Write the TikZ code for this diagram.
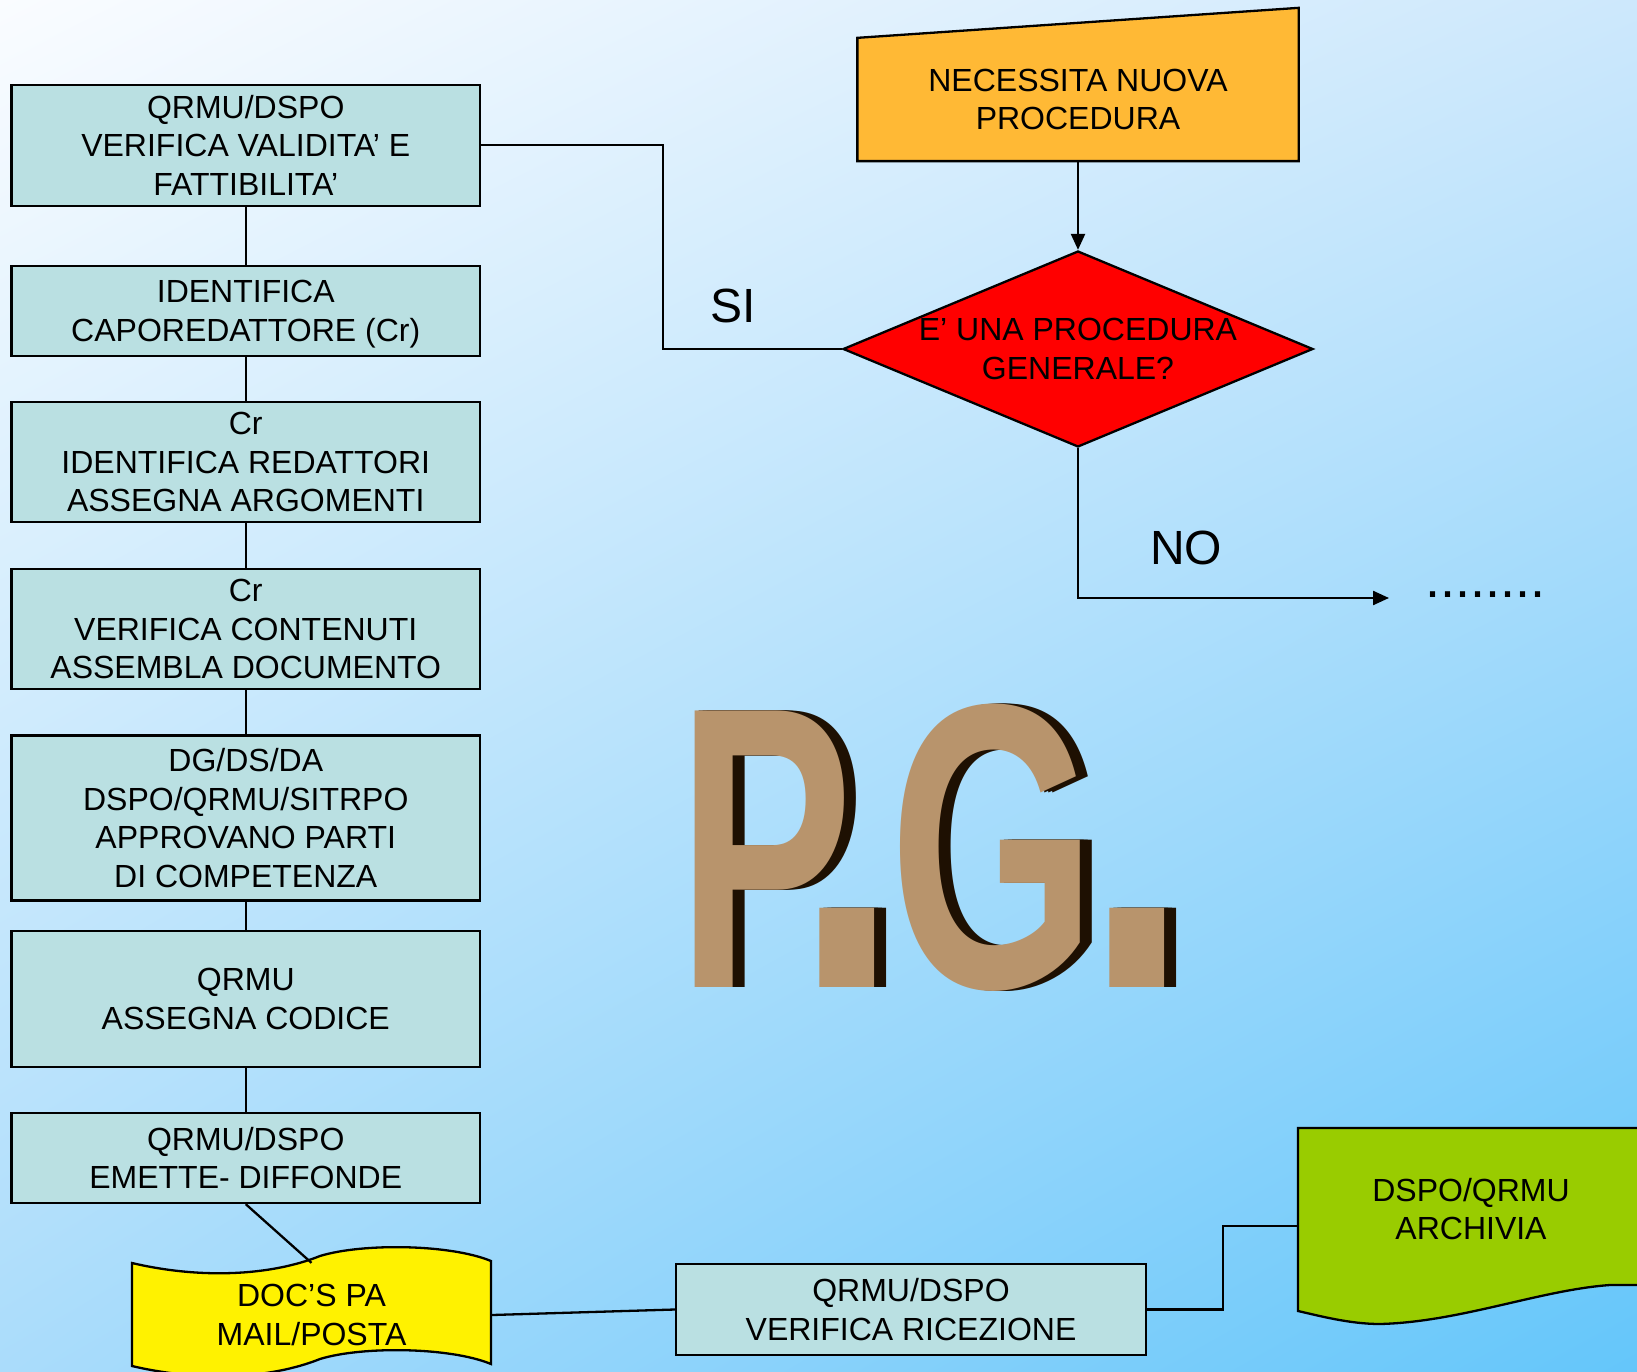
\documentclass[tikz,border=0pt]{standalone}
\usepackage{fontspec}
\setmainfont{Liberation Sans}
\usepackage{tikz}
\usetikzlibrary{
  shapes.geometric,%
  arrows.meta,%
  shadings,%
  positioning,%
  calc
}
\definecolor{boxfill}{RGB}{186,224,226}
\definecolor{needfill}{RGB}{255,185,53}
\definecolor{archfill}{RGB}{153,204,0}
\definecolor{pgtan}{RGB}{184,148,108}
\definecolor{pgshadow}{RGB}{30,16,2}
\definecolor{bgtl}{RGB}{250,252,255}
\definecolor{bgtr}{RGB}{205,232,252}
\definecolor{bgbl}{RGB}{170,220,251}
\definecolor{bgbr}{RGB}{100,198,250}
\pgfdeclarelayer{back}
\pgfsetlayers{back,main}
\tikzset{>={Triangle[length=16bp,width=14bp]}}
\tikzset{every node/.style={font=\fontsize{32bp}{38.5bp}\selectfont, text depth=0pt}}
\tikzset{stepbox/.style={draw, fill=boxfill, align=center, inner sep=0pt,
    minimum width=468.5bp}}
\tikzset{decision/.style={diamond, draw, fill=red, inner sep=0pt,
    minimum width=470bp, minimum height=196bp}}
\tikzset{biglabel/.style={font=\fontsize{48bp}{56bp}\selectfont, inner sep=0pt}}
\tikzset{pgletter/.style={font=\fontsize{402bp}{402bp}\selectfont\bfseries,
    inner sep=0pt, anchor=base west}}

\begin{document}
\begin{tikzpicture}[x=1bp, y=-1bp, every path/.style={line width=2.3bp}]
  \useasboundingbox (0,0) rectangle (1637,1372);
  \begin{pgfonlayer}{back}
    \shade[upper left=bgtl, upper right=bgtr, lower left=bgbl, lower right=bgbr]
      (0,0) rectangle (1637,1372);
  \end{pgfonlayer}

  % left column
  \node[stepbox, minimum height=121bp] (verifica) at (245.75,145.2)
    {QRMU/DSPO\\VERIFICA VALIDITA’ E\\FATTIBILITA’};
  \node[stepbox, minimum height=90bp] (capo) at (245.75,311)
    {IDENTIFICA\\CAPOREDATTORE (Cr)};
  \node[stepbox, minimum height=120bp] (redattori) at (245.75,462)
    {Cr\\IDENTIFICA REDATTORI\\ASSEGNA ARGOMENTI};
  \node[stepbox, minimum height=120bp] (contenuti) at (245.75,629)
    {Cr\\VERIFICA CONTENUTI\\ASSEMBLA DOCUMENTO};
  \node[stepbox, minimum height=165bp] (approva) at (245.75,818)
    {DG/DS/DA\\DSPO/QRMU/SITRPO\\APPROVANO PARTI\\DI COMPETENZA};
  \node[stepbox, minimum height=136bp] (codice) at (245.75,999)
    {QRMU\\ASSEGNA CODICE};
  \node[stepbox, minimum height=90bp] (emette) at (245.75,1158)
    {QRMU/DSPO\\EMETTE- DIFFONDE};
  \foreach \a/\b in {verifica/capo, capo/redattori, redattori/contenuti,
      contenuti/approva, approva/codice, codice/emette}
    \draw (\a.south) -- (\b.north);

  % top right
  \node[align=center, inner sep=0pt, minimum width=439bp, minimum height=121bp]
    (nuova) at (1078,99.5) {NECESSITA NUOVA\\PROCEDURA};
  \begin{pgfonlayer}{back}
    \filldraw[fill=needfill] (nuova.south west) -- (nuova.north west)
      -- ($(nuova.north east)+(0,-30)$) -- (nuova.south east) -- cycle;
  \end{pgfonlayer}
  \node[decision, label={[align=center]center:E’ UNA PROCEDURA\\GENERALE?}]
    (general) at (1078,349) {};
  \draw[->] (nuova.south) -- (general.north);
  \draw (verifica.east) -- ++(182,0) |- (general.west);
  \coordinate (oltre) at (1389,598);
  \draw[->] (general.south) |- (oltre);
  \node[biglabel] (si) at (733,306) {SI};
  \node[biglabel] (no) at (1186,548) {NO};
  \node[biglabel, anchor=base west, font=\fontsize{54bp}{60bp}\selectfont]
    (puntini) at (1424,597) {........};

  % P.G.
  \foreach \ch/\x/\sx/\sy in {P/676/0.656/1, ./792.5/0.965/1.324,
      G/888/0.663/1.01, ./1082/0.965/1.324} {
    \foreach \d in {4,8,12}
      \node[pgletter, text=pgshadow] at (\x+\d,987) {\scalebox{\sx}[\sy]{\ch}};
    \node[pgletter, text=pgtan] at (\x,987) {\scalebox{\sx}[\sy]{\ch}};
  }

  % bottom row
  \node[align=center, inner sep=0pt, minimum width=359bp, minimum height=102bp]
    (docs) at (311.5,1315) {DOC’S PA\\MAIL/POSTA};
  \begin{pgfonlayer}{back}
    \filldraw[fill=yellow] (132,1263) .. controls (200,1279) and (270,1276) .. (320,1256)
      .. controls (362,1243) and (450,1244) .. (491,1261) -- (491,1364)
      .. controls (450,1347) and (362,1346) .. (320,1359)
      .. controls (270,1379) and (200,1382) .. (132,1366) -- cycle;
  \end{pgfonlayer}
  \draw (emette.south) -- (docs.north);
  \node[stepbox, minimum width=470bp, minimum height=91bp] (ricezione) at (911,1309.5)
    {QRMU/DSPO\\VERIFICA RICEZIONE};
  \draw (docs.east) -- (ricezione.west);
  \node[inner sep=0pt, minimum width=362bp, minimum height=196bp,
    label={[align=center, xshift=-8bp, yshift=17bp]center:DSPO/QRMU\\ARCHIVIA}]
    (archivio) at (1479,1226) {};
  \begin{pgfonlayer}{back}
    \filldraw[fill=archfill] (1298,1128) -- (1660,1128) -- (1660,1285) -- (1610,1285)
      .. controls (1540,1290) and (1460,1322) .. (1380,1324)
      .. controls (1350,1324) and (1320,1316) .. (1298,1311) -- cycle;
  \end{pgfonlayer}
  \draw (ricezione.east) -- ++(76,0) |- (archivio.west);
\end{tikzpicture}
\end{document}
